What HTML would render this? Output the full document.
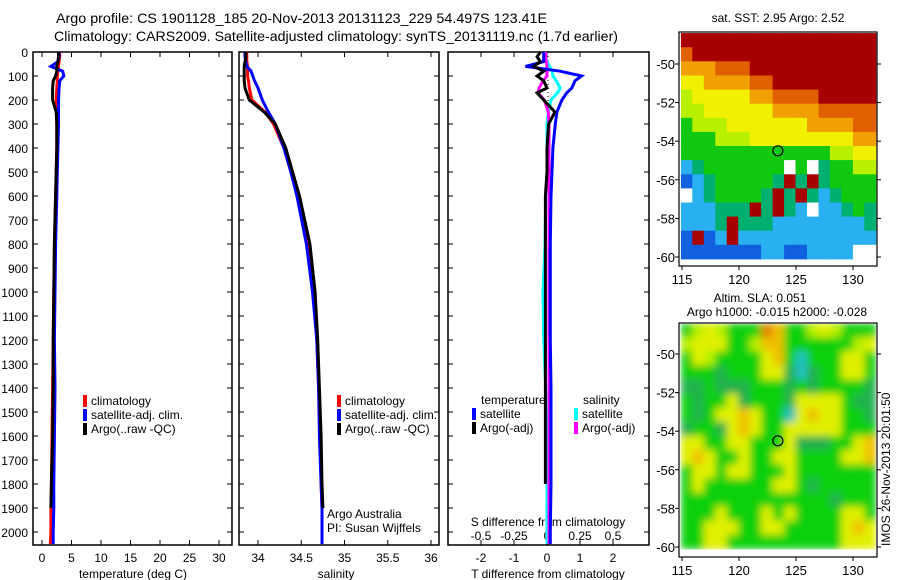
<!DOCTYPE html>
<html><head><meta charset="utf-8">
<style>
html,body{margin:0;padding:0;background:#fff;}
svg{display:block;font-family:"Liberation Sans",sans-serif;}
text{fill:#000;}
</style></head>
<body>
<svg id="fig" width="900" height="580" viewBox="0 0 900 580" xmlns="http://www.w3.org/2000/svg">
<defs>
<filter id="blur" x="0" y="0" width="1" height="1"><feGaussianBlur stdDeviation="4" edgeMode="duplicate"/></filter>
<clipPath id="slaClip"><rect x="680" y="324" width="196" height="232"/></clipPath>
</defs>
<rect width="900" height="580" fill="#fff"/>
<text x="56" y="23" font-size="14" textLength="491" lengthAdjust="spacingAndGlyphs">Argo profile: CS 1901128_185 20-Nov-2013 20131123_229 54.497S 123.41E</text>
<text x="54" y="41" font-size="14" textLength="564" lengthAdjust="spacingAndGlyphs">Climatology: CARS2009. Satellite-adjusted climatology: synTS_20131119.nc (1.7d earlier)</text>
<g id="g"></g>
</svg>
<script>
// ---- data ----
const depths = [0,20,40,60,80,100,120,150,200,250,300,400,500,600,800,1000,1200,1400,1600,1800,1900,2000,2050];
const tClim = [3.0,3.0,2.9,2.8,2.7,2.6,2.6,2.5,2.4,2.5,2.5,2.5,2.4,2.3,2.1,2.0,1.9,1.8,1.7,1.6,1.5,1.5,1.4];
const tSat  = [2.9,2.9,2.7,1.5,3.5,3.7,3.0,2.9,2.8,2.8,2.8,2.7,2.6,2.5,2.3,2.2,2.1,2.2,2.1,2.0,2.0,1.9,1.9];
const tArgo = [2.8,2.8,2.7,2.5,2.5,2.3,1.9,1.8,1.8,2.4,2.5,2.5,2.4,2.3,2.1,2.0,1.9,1.9,1.8,1.6,1.5,null,null];
const sClim = [33.87,33.87,33.87,33.88,33.88,33.88,33.89,33.9,33.93,34.08,34.18,34.3,34.38,34.46,34.57,34.64,34.68,34.7,34.72,34.73,34.74,34.74,34.74];
const sSat  = [33.85,33.85,33.86,33.87,33.92,33.94,33.96,34.0,34.05,34.12,34.2,34.3,34.38,34.45,34.56,34.63,34.68,34.7,34.71,34.73,34.74,34.74,34.74];
const sArgo = [33.86,33.86,33.85,33.84,33.84,33.84,33.84,33.85,33.9,34.07,34.2,34.32,34.4,34.48,34.6,34.66,34.69,34.71,34.73,34.74,34.75,null,null];
const dDepths = [0,20,40,60,80,100,120,150,170,200,250,300,400,500,600,800,1000,1200,1400,1600,1800,2000,2050];
const dTsat  = [-0.1,-0.1,-0.1,-0.65,0.4,1.05,0.85,0.75,0.6,0.45,0.3,0.25,0.18,0.15,0.12,0.1,0.1,0.1,0.12,0.12,0.12,0.1,0.1];
const dTargo = [-0.2,-0.3,-0.2,-0.4,-0.1,-0.3,-0.1,0.0,-0.3,-0.1,0.24,0.05,0.0,0.0,-0.05,-0.05,-0.05,-0.05,-0.05,-0.05,-0.05,null,null];
const dSsat  = [-0.015,-0.01,0.0,0.02,0.04,0.045,0.07,0.1,0.08,0.03,0.01,0.0,0.0,0.0,-0.01,-0.015,-0.03,-0.025,-0.01,-0.005,0.0,0.0,0.0];
const dSargo = [-0.01,-0.01,-0.005,0.0,0.0,0.0,-0.03,-0.06,-0.07,-0.02,0.01,0.015,0.015,0.015,0.015,0.015,0.015,0.015,0.015,0.015,0.015,0.015,0.015];
const tTicks = [0,5,10,15,20,25,30];
const sTicks = [34,34.5,35,35.5,36];
const sTickLabels = ["34","34.5","35","35.5","36"];
const dTTicks = [-2,-1,0,1,2];
const dSTicks = [-0.5,-0.25,0,0.25,0.5];
const dSTickLabels = ["-0.5","-0.25","0","0.25","0.5"];
const depthTicks = [0,100,200,300,400,500,600,700,800,900,1000,1100,1200,1300,1400,1500,1600,1700,1800,1900,2000];
const lonTicks = [115,120,125,130];
const latTicks = [-50,-52,-54,-56,-58,-60];
const argoLon = 123.41, argoLat = -54.497;
const sstGrid = [
"RRRRRRRRRRRRRRRRR",
"ORRRRRRRRRRRRRRRR",
"oooOOORRRRRRRRRRR",
"YYooooOORRRRRRRRR",
"yYYYYYooOOOORRRRR",
"yyYYYYYYooooOOOOO",
"GyyyYYYYYYYooooOO",
"GGGyyyYYYYYYYYYoo",
"GGGGGGGGGGGGGyyYY",
"BgGGGGGGGWGWgGGyy",
"bBgGGGGGgRgRgGGGG",
"WBgGGGGgRgRgBgGGG",
"BBBgggRgRgBWBBgGg",
"BBBgRgggBBBBBBBBg",
"bRbBRBBBBBBBBBBBB",
"bbbbbbbBBbbBBBBWW"];
const slaGrid = [
"GyYyGGGoOGGyYyGGG",
"yYYYGGyOOGGGGGGyY",
"GYyGGGGYOGCGGGYYG",
"GGGgGGGYYgCgGGYYG",
"ggGgggGGGgGgGGGGg",
"GgGGYgGGGgYYYYGgg",
"GgGYYOYGGCYOYYGGg",
"gGGgYOYGGYYYYYGGG",
"YYGGYYGGGYgggGGYO",
"YOYGGYGGYYGGGGYYO",
"GYYGYYGGGYGGGGGGG",
"GYGGGGGGYYGgGGGGG",
"GGGGGGGGGGGGGgGGG",
"GGGYGGGYGYGGGGYYG",
"GGYYYGGYYGGGGGYOY",
"GGYYGGGGGGGGGGYYY"];
const sstColors = {R:"#a80000",O:"#e06000",o:"#f0a000",Y:"#f0f000",y:"#b8f000",G:"#10c810",g:"#00b070",B:"#28b0f0",b:"#1060e0",W:"#ffffff"};
const slaColors = {Y:"#e0f000",y:"#b8f000",G:"#10d010",g:"#20b050",O:"#f0c000",o:"#e08000",C:"#20c0c0"};

// ---- helpers ----
const NS="http://www.w3.org/2000/svg";
const G=document.getElementById('g');
function el(tag,attrs,parent){const e=document.createElementNS(NS,tag);for(const k in attrs)e.setAttribute(k,attrs[k]);(parent||G).appendChild(e);return e;}
function txt(x,y,s,size,anchor,parent){const t=el('text',{x:x,y:y,'font-size':size||12,'text-anchor':anchor||'start'},parent);t.textContent=s;return t;}
const Y0=52, Y1=545;
const yD = d => Y0 + d*0.24;
const xT = v => 42 + v*5.9;
const xS = v => 258 + (v-34)*86.5;
const xDT = v => 547 + v*33;
const xDS = v => 547 + v*132;

function panel(x0,x1,name){
  const r=el('rect',{x:x0,y:Y0,width:x1-x0,height:Y1-Y0,fill:'none',stroke:'#000','stroke-width':1.5});
  
  
  depthTicks.forEach(d=>{
    el('line',{x1:x0,x2:x0+5,y1:yD(d),y2:yD(d),stroke:'#000'});
    el('line',{x1:x1,x2:x1-5,y1:yD(d),y2:yD(d),stroke:'#000'});
  });
}
function series(ds,vals,fx,color,name){
  const pts=[];
  for(let i=0;i<ds.length;i++){ if(vals[i]!==null) pts.push(fx(vals[i]).toFixed(1)+','+yD(ds[i]).toFixed(1)); }
  const p=el('polyline',{points:pts.join(' '),fill:'none',stroke:color,'stroke-width':3,'stroke-linejoin':'miter'});
  
  
}
function legendItem(x,y,color,label,name){
  const g=el('g',{});
  
  
  el('rect',{x:x,y:y-10,width:4,height:12,fill:color},g);
  txt(x+8,y,label,12,'start',g);
}

depthTicks.forEach(d=>{ const t=txt(28,yD(d)+5,String(d),12,'end');   });

// panel 1 temperature
panel(33,232,'temperature-panel');
tTicks.forEach(v=>{ el('line',{x1:xT(v),x2:xT(v),y1:Y0,y2:Y0+5,stroke:'#000'}); el('line',{x1:xT(v),x2:xT(v),y1:Y1,y2:Y1-5,stroke:'#000'}); txt(xT(v),562,String(v),12,'middle'); });
txt(133,578,'temperature (deg C)',12,'middle');
series(depths,tClim,xT,'#ff0000','temp-climatology-line');
series(depths,tSat,xT,'#0000ff','temp-satellite-line');
series(depths,tArgo,xT,'#000000','temp-argo-line');
legendItem(83,405,'#ff0000','climatology','legend-climatology');
legendItem(83,419,'#0000ff','satellite-adj. clim.','legend-satellite');
legendItem(83,433,'#000000','Argo(..raw -QC)','legend-argo');

// panel 2 salinity
panel(239,439,'salinity-panel');
sTicks.forEach((v,i)=>{ el('line',{x1:xS(v),x2:xS(v),y1:Y0,y2:Y0+5,stroke:'#000'}); el('line',{x1:xS(v),x2:xS(v),y1:Y1,y2:Y1-5,stroke:'#000'}); txt(xS(v),562,sTickLabels[i],12,'middle'); });
txt(336,578,'salinity',12,'middle');
series(depths,sClim,xS,'#ff0000','sal-climatology-line');
series(depths,sSat,xS,'#0000ff','sal-satellite-line');
series(depths,sArgo,xS,'#000000','sal-argo-line');
legendItem(337,405,'#ff0000','climatology','legend-climatology-2');
legendItem(337,419,'#0000ff','satellite-adj. clim.','legend-satellite-2');
legendItem(337,433,'#000000','Argo(..raw -QC)','legend-argo-2');
txt(327,518,'Argo Australia',12);
txt(327,532,'PI: Susan Wijffels',12);

// panel 3 differences
panel(448,649,'difference-panel');
dTTicks.forEach(v=>{ el('line',{x1:xDT(v),x2:xDT(v),y1:Y0,y2:Y0+5,stroke:'#000'}); el('line',{x1:xDT(v),x2:xDT(v),y1:Y1,y2:Y1-5,stroke:'#000'}); txt(xDT(v),562,String(v),12,'middle'); });
dSTicks.forEach((v,i)=>{ txt(xDS(v),540,dSTickLabels[i],12,'middle'); });
txt(548,526,'S difference from climatology',12,'middle');
txt(548,578,'T difference from climatology',12,'middle');
el('line',{x1:548,x2:548,y1:Y0,y2:Y1,stroke:'#000','stroke-dasharray':'1,3'});
series(dDepths,dSsat,xDS,'#00ffff','sdiff-satellite-line');
series(dDepths,dSargo,xDS,'#ff00ff','sdiff-argo-line');
series(dDepths,dTsat,xDT,'#0000ff','tdiff-satellite-line');
series(dDepths,dTargo,xDT,'#000000','tdiff-argo-line');
txt(481,404,'temperature',12);
legendItem(472,418,'#0000ff','satellite','legend-tdiff-satellite');
legendItem(472,432,'#000000','Argo(-adj)','legend-tdiff-argo');
txt(583,404,'salinity',12);
legendItem(574,418,'#00ffff','satellite','legend-sdiff-satellite');
legendItem(574,432,'#ff00ff','Argo(-adj)','legend-sdiff-argo');

// maps
function map(top,bottom,latTop,grid,colors,name,labelY,smooth){
  const bx0=679,bx1=877;
  const lonX = v => 682 + (v-115)*11.4;
  const latY = v => latTop + (-50 - v)*19.3;
  const g=el('g',{});
  
  
  let cg=g;
  if(smooth){ const w=el('g',{'clip-path':'url(#slaClip)'},g); cg=el('g',{filter:'url(#blur)'},w); }
  const rows=grid.length, cols=grid[0].length;
  const gx0=lonX(114.9), gx1=lonX(132), gy0=latY(-48.4), gy1=latY(-60.1);
  const cw=(gx1-gx0)/cols, ch=(gy1-gy0)/rows;
  for(let r=0;r<rows;r++)for(let c=0;c<cols;c++){
    const cell=el('rect',{x:(gx0+c*cw).toFixed(1),y:(gy0+r*ch).toFixed(1),width:(cw+0.5).toFixed(1),height:(ch+0.5).toFixed(1),fill:colors[grid[r][c]]},cg);
    
    
  }
  el('rect',{x:bx0,y:top,width:bx1-bx0,height:bottom-top,fill:'none',stroke:'#000','stroke-width':1.2},g);
  lonTicks.forEach(v=>{ el('line',{x1:lonX(v),x2:lonX(v),y1:bottom,y2:bottom+4,stroke:'#000'},g); txt(lonX(v),labelY,String(v),13,'middle',g); });
  latTicks.forEach(v=>{ el('line',{x1:bx0-4,x2:bx0,y1:latY(v),y2:latY(v),stroke:'#000'},g); el('line',{x1:bx1,x2:bx1+4,y1:latY(v),y2:latY(v),stroke:'#000'},g); txt(bx0-4,latY(v)+5,String(v),13,'end',g); });
  const c=el('circle',{cx:lonX(argoLon),cy:latY(argoLat),r:5,fill:'none',stroke:'#000','stroke-width':1.2},g);
  
  
}
map(32,266,64,sstGrid,sstColors,'sst-map',284,false);
map(323,557,354,slaGrid,slaColors,'sla-map',575,true);
txt(778,22,'sat. SST: 2.95 Argo: 2.52',12,'middle');
txt(760,302,'Altim. SLA: 0.051',12,'middle');
txt(777,316,'Argo h1000: -0.015 h2000: -0.028',12,'middle');
const side=txt(0,0,'IMOS 26-Nov-2013 20:01:50',12,'start');
side.setAttribute('transform','translate(890,546) rotate(-90)');


</script>
</body></html>
